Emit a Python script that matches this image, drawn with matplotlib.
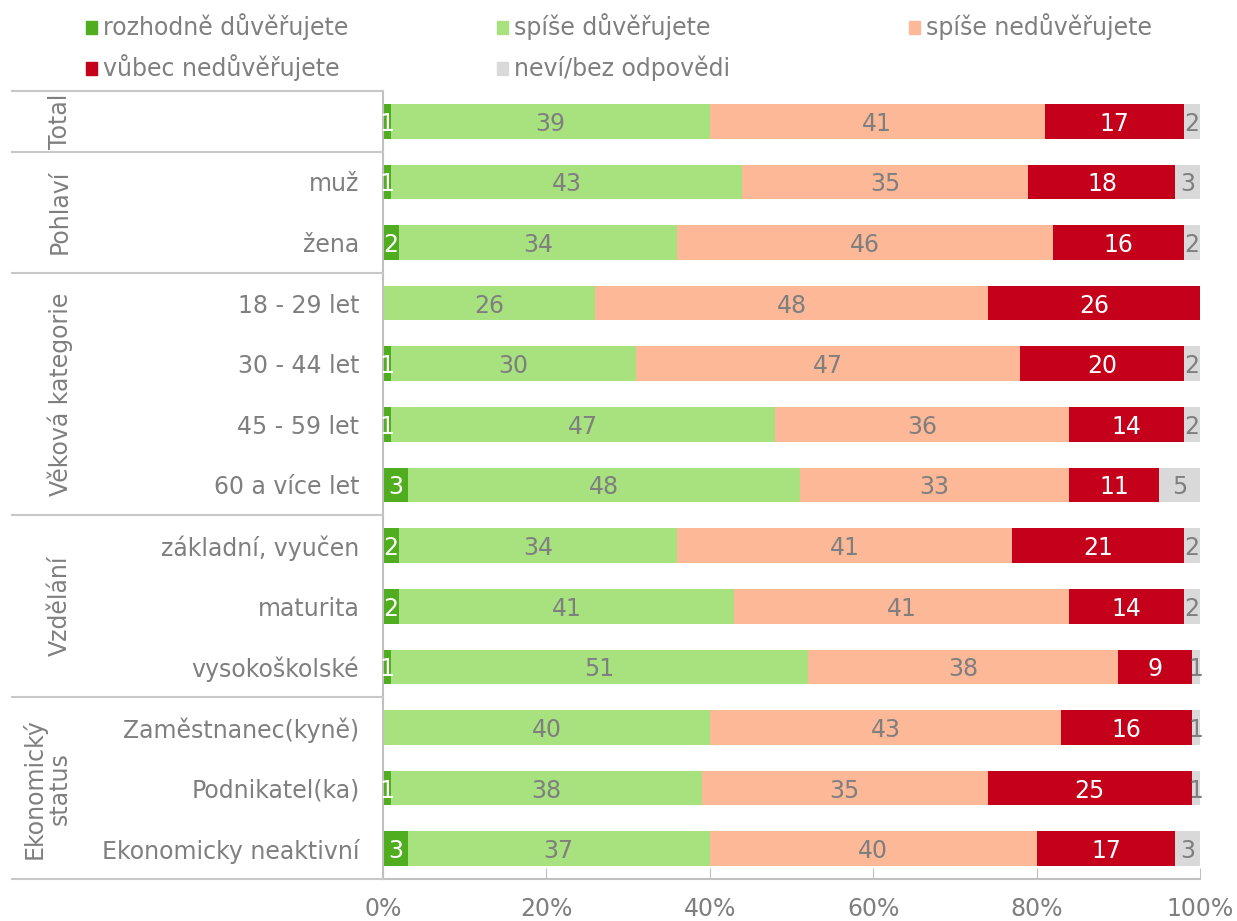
import matplotlib.pyplot as plt
import numpy as np
from matplotlib.patches import Rectangle
from matplotlib.lines import Line2D
import matplotlib.transforms as mtransforms

categories = ['', 'muž', 'žena', '18 - 29 let', '30 - 44 let', '45 - 59 let',
              '60 a více let', 'základní, vyučen', 'maturita', 'vysokoškolské',
              'Zaměstnanec(kyně)', 'Podnikatel(ka)', 'Ekonomicky neaktivní']
groups = [('Total', 0, 0), ('Pohlaví', 1, 2), ('Věková kategorie', 3, 6),
          ('Vzdělání', 7, 9), ('Ekonomický\nstatus', 10, 12)]

series_names = ['rozhodně důvěřujete', 'spíše důvěřujete', 'spíše nedůvěřujete',
                'vůbec nedůvěřujete', 'neví/bez odpovědi']
rozhodne = [1, 1, 2, 0, 1, 1, 3, 2, 2, 1, 0, 1, 3]
spise = [39, 43, 34, 26, 30, 47, 48, 34, 41, 51, 40, 38, 37]
spise_ne = [41, 35, 46, 48, 47, 36, 33, 41, 41, 38, 43, 35, 40]
vubec_ne = [17, 18, 16, 26, 20, 14, 11, 21, 14, 9, 16, 25, 17]
nevi = [2, 3, 2, 0, 2, 2, 5, 2, 2, 1, 1, 1, 3]

colors = ['#4fad1f', '#a8e27f', '#fcb897', '#c5001a', '#d9d9d9']
text_colors = ['white', '#7f7f7f', '#7f7f7f', 'white', '#7f7f7f']
gray = '#7f7f7f'
fs = 17

fig = plt.figure(figsize=(12.37, 9.21), dpi=100)
ax = fig.add_axes([383 / 1237, 1 - 879 / 921, 817 / 1237, 788 / 921])

n = len(categories)
y = np.arange(n)
left = np.zeros(n)
for vals, col, tc in zip([rozhodne, spise, spise_ne, vubec_ne, nevi], colors, text_colors):
    vals = np.array(vals, dtype=float)
    ax.barh(y, vals, left=left, height=0.57, color=col)
    for yi, l, v in zip(y, left, vals):
        if v > 0:
            ax.text(l + v / 2, yi, '%d' % v, ha='center', va='center_baseline',
                    color=tc, fontsize=fs)
    left += vals

ax.set_xlim(0, 100)
ax.set_ylim(n - 0.5, -0.5)
ax.set_xticks([0, 20, 40, 60, 80, 100])
ax.set_xticklabels(['0%', '20%', '40%', '60%', '80%', '100%'])
ax.set_yticks(y)
ax.set_yticklabels(categories)
ax.tick_params(axis='y', length=0, pad=17, labelsize=fs, labelcolor=gray)
ax.tick_params(axis='x', direction='in', length=8, color='#c0c0c0', pad=13,
               labelsize=fs, labelcolor=gray)
for s in ['top', 'right']:
    ax.spines[s].set_visible(False)
for s in ['left', 'bottom']:
    ax.spines[s].set_color('#c0c0c0')
    ax.spines[s].set_linewidth(1.5)

# group separators and group labels
trans = mtransforms.blended_transform_factory(fig.transFigure, ax.transData)
x0 = 12 / 1237
x1 = 383 / 1237
bounds = [-0.5] + [g[2] + 0.5 for g in groups]
for b in bounds:
    fig.add_artist(Line2D([x0, x1], [b, b], transform=trans, color='#c8c8c8', lw=1.5))
for name, a, b in groups:
    xc = 47 / 1237 if '\n' in name else 60 / 1237
    fig.text(xc, (a + b) / 2, name, transform=trans, rotation=90, ha='center',
             va='center', multialignment='center', fontsize=fs, color=gray,
             linespacing=1.05)

# legend
leg_pos = [(86, 27), (497, 27), (909, 27), (86, 68), (497, 68)]
for (px, py), name, col in zip(leg_pos, series_names, colors):
    fig.add_artist(Rectangle((px / 1237, 1 - (py + 7) / 921), 11 / 1237, 13 / 921,
                             transform=fig.transFigure, color=col))
    fig.text((px + 17) / 1237, 1 - py / 921, name, ha='left', va='center',
             fontsize=fs, color=gray)

fig.savefig('out.png', dpi=100)
